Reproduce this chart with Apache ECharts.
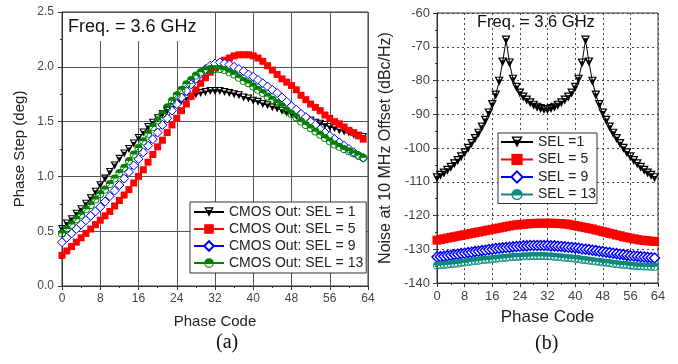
<!DOCTYPE html>
<html>
<head>
<meta charset="utf-8">
<script src="https://cdn.jsdelivr.net/npm/echarts@6/dist/echarts.min.js"></script>
<style>
html,body{margin:0;padding:0;background:#fff;}
#c{width:678px;height:364px;}
</style>
</head>
<body>
<div id="c"></div>
<script>
// ---------- data ----------
const phaseCode = [0,1,2,3,4,5,6,7,8,9,10,11,12,13,14,15,16,17,18,19,20,21,22,23,24,25,26,27,28,29,30,31,32,33,34,35,36,37,38,39,40,41,42,43,44,45,46,47,48,49,50,51,52,53,54,55,56,57,58,59,60,61,62,63];

// (a) Phase step (deg)
const stepSel1 = [0.52,0.57,0.61,0.66,0.70,0.75,0.80,0.86,0.92,0.98,1.04,1.10,1.16,1.21,1.25,1.30,1.35,1.40,1.45,1.49,1.53,1.57,1.60,1.63,1.66,1.69,1.71,1.73,1.75,1.76,1.77,1.78,1.78,1.78,1.77,1.76,1.75,1.74,1.72,1.71,1.69,1.68,1.66,1.65,1.63,1.62,1.60,1.58,1.57,1.55,1.54,1.52,1.51,1.49,1.48,1.47,1.45,1.44,1.42,1.41,1.40,1.38,1.37,1.36];
const stepSel5 = [0.28,0.32,0.36,0.40,0.44,0.48,0.52,0.56,0.60,0.64,0.68,0.73,0.78,0.83,0.88,0.94,1.00,1.06,1.13,1.20,1.27,1.33,1.40,1.47,1.53,1.60,1.66,1.73,1.79,1.85,1.90,1.95,1.99,2.03,2.06,2.08,2.10,2.11,2.11,2.11,2.10,2.08,2.05,2.01,1.97,1.93,1.89,1.86,1.83,1.79,1.74,1.70,1.66,1.63,1.60,1.56,1.53,1.50,1.48,1.45,1.42,1.40,1.37,1.34];
const stepSel9 = [0.40,0.44,0.48,0.52,0.56,0.60,0.64,0.68,0.72,0.77,0.82,0.87,0.92,0.98,1.04,1.10,1.16,1.22,1.28,1.34,1.40,1.47,1.53,1.60,1.66,1.72,1.78,1.84,1.89,1.94,1.98,2.01,2.03,2.04,2.03,2.02,2.00,1.98,1.96,1.93,1.91,1.88,1.85,1.82,1.79,1.76,1.72,1.68,1.64,1.61,1.57,1.54,1.50,1.47,1.43,1.40,1.37,1.34,1.31,1.28,1.25,1.22,1.19,1.17];
const stepSel13 = [0.48,0.52,0.56,0.61,0.65,0.70,0.74,0.79,0.84,0.88,0.93,0.98,1.03,1.08,1.14,1.20,1.26,1.32,1.39,1.45,1.51,1.57,1.63,1.69,1.74,1.79,1.84,1.88,1.92,1.95,1.97,1.98,1.98,1.98,1.97,1.95,1.93,1.90,1.87,1.85,1.82,1.79,1.76,1.73,1.70,1.67,1.64,1.60,1.57,1.54,1.50,1.47,1.44,1.41,1.38,1.35,1.32,1.29,1.27,1.25,1.23,1.21,1.19,1.17];

// (b) Noise at 10 MHz offset (dBc/Hz)
const noiseSel1 = [-108.8,-108.1,-107.4,-106.6,-105.7,-104.7,-103.7,-102.6,-101.4,-100.1,-98.7,-97.2,-95.6,-93.8,-91.8,-89.6,-87.1,-84.3,-80.2,-74.5,-68.0,-74.8,-79.6,-82.0,-83.7,-84.9,-85.8,-86.6,-87.3,-87.9,-88.3,-88.6,-88.6,-88.3,-87.9,-87.3,-86.6,-85.8,-84.9,-83.7,-82.0,-79.6,-74.8,-68.0,-74.5,-80.2,-84.3,-87.1,-89.6,-91.8,-93.8,-95.6,-97.2,-98.7,-100.1,-101.4,-102.6,-103.7,-104.7,-105.7,-106.6,-107.4,-108.1,-108.8];
const noiseSel5 = [-127.3,-127.1,-126.9,-126.7,-126.5,-126.3,-126.1,-125.9,-125.7,-125.5,-125.3,-125.1,-124.9,-124.7,-124.5,-124.3,-124.1,-123.9,-123.7,-123.5,-123.3,-123.1,-122.9,-122.8,-122.7,-122.6,-122.5,-122.4,-122.4,-122.3,-122.3,-122.3,-122.3,-122.3,-122.3,-122.4,-122.4,-122.5,-122.6,-122.8,-123.0,-123.2,-123.4,-123.6,-123.8,-124.0,-124.3,-124.5,-124.8,-125.0,-125.3,-125.5,-125.8,-126.0,-126.3,-126.5,-126.7,-126.9,-127.1,-127.3,-127.4,-127.5,-127.6,-127.7];
const noiseSel9 = [-132.3,-132.2,-132.1,-131.9,-131.8,-131.6,-131.5,-131.3,-131.2,-131.0,-130.9,-130.7,-130.6,-130.4,-130.3,-130.1,-130.0,-129.8,-129.7,-129.6,-129.5,-129.4,-129.3,-129.2,-129.1,-129.0,-129.0,-128.9,-128.9,-128.9,-128.9,-128.9,-128.9,-129.0,-129.0,-129.1,-129.2,-129.3,-129.4,-129.5,-129.6,-129.7,-129.9,-130.0,-130.1,-130.3,-130.4,-130.6,-130.7,-130.9,-131.0,-131.2,-131.3,-131.5,-131.6,-131.8,-131.9,-132.0,-132.1,-132.2,-132.3,-132.4,-132.5,-132.6];
const noiseSel13 = [-134.8,-134.7,-134.6,-134.5,-134.4,-134.3,-134.2,-134.0,-133.9,-133.8,-133.6,-133.5,-133.4,-133.2,-133.1,-133.0,-132.9,-132.8,-132.7,-132.6,-132.5,-132.4,-132.3,-132.2,-132.2,-132.1,-132.1,-132.0,-132.0,-132.0,-132.0,-132.0,-132.1,-132.1,-132.2,-132.3,-132.4,-132.5,-132.6,-132.7,-132.8,-132.9,-133.1,-133.2,-133.3,-133.5,-133.6,-133.7,-133.9,-134.0,-134.1,-134.3,-134.4,-134.5,-134.6,-134.7,-134.8,-134.9,-135.0,-135.0,-135.1,-135.1,-135.2,-135.2];

const namesA = ['CMOS Out: SEL = 1','CMOS Out: SEL = 5','CMOS Out: SEL = 9','CMOS Out: SEL = 13'];
const namesB = ['SEL =1','SEL = 5','SEL = 9','SEL = 13'];

// ---------- styles ----------
const halfTri = 'path://M0 0L20 0L10 20Z M4.5 2.6L10 13.6L15.5 2.6Z M3 6L17 6L10 20Z';
const halfCircle = 'path://M10 0A10 10 0 1 1 10 20A10 10 0 1 1 10 0Z M10 2.2A7.8 7.8 0 1 0 10 17.8A7.8 7.8 0 1 0 10 2.2Z M2 10A8 8 0 0 1 18 10Z';
const FONT = 'Liberation Sans, Arial, sans-serif';
const SERIF = 'Liberation Serif, Times New Roman, serif';

function pairs(ys){ return phaseCode.map((x,i)=>[x, ys[i]]); }

function mk(name, data, gi, color, symbol, size, fill, bw){
  return {
    name: name, type: 'line', xAxisIndex: gi, yAxisIndex: gi,
    data: pairs(data), symbol: symbol, symbolSize: size,
    showSymbol: true, showAllSymbol: true,
    lineStyle: {color: color, width: 1},
    itemStyle: {color: fill, borderColor: color, borderWidth: bw},
    emphasis: {disabled: true}, animation: false
  };
}

const axisCommon = {
  axisLine: {show: true, lineStyle: {color: '#333', width: 1}},
  axisTick: {show: true, length: 4, lineStyle: {color: '#333'}},
  minorTick: {show: true, splitNumber: 2, length: 2, lineStyle: {color: '#333'}}
};

const chart = echarts.init(document.getElementById('c'), null, {renderer: 'canvas'});
chart.setOption({
  animation: false,
  backgroundColor: '#fff',
  textStyle: {fontFamily: FONT},
  grid: [
    {left: 62, top: 12, width: 306, height: 274, show: true, borderColor: '#333', borderWidth: 1, containLabel: false},
    {left: 437, top: 13, width: 221, height: 270, show: true, borderColor: '#333', borderWidth: 1, containLabel: false}
  ],
  xAxis: [
    Object.assign({}, axisCommon, {
      gridIndex: 0, type: 'value', min: 0, max: 64, interval: 8,
      name: 'Phase Code', nameLocation: 'middle', nameGap: 28,
      nameTextStyle: {fontSize: 15, color: '#222', fontFamily: FONT},
      axisLabel: {fontSize: 12, color: '#444', margin: 7, fontFamily: FONT},
      splitLine: {show: true, lineStyle: {color: '#555', width: 1}}
    }),
    Object.assign({}, axisCommon, {
      gridIndex: 1, type: 'value', min: 0, max: 64, interval: 8,
      name: 'Phase Code', nameLocation: 'middle', nameGap: 26,
      nameTextStyle: {fontSize: 17, color: '#222', fontFamily: FONT},
      axisLabel: {fontSize: 13, color: '#444', margin: 7, fontFamily: FONT},
      splitLine: {show: true, lineStyle: {color: '#444', width: 1, type: [2, 3]}}
    })
  ],
  yAxis: [
    Object.assign({}, axisCommon, {
      gridIndex: 0, type: 'value', min: 0, max: 2.5, interval: 0.5,
      name: 'Phase Step (deg)', nameLocation: 'middle', nameGap: 35,
      nameTextStyle: {fontSize: 15, color: '#222', fontFamily: FONT},
      axisLabel: {fontSize: 12, color: '#444', margin: 8, fontFamily: FONT, formatter: v => v.toFixed(1)},
      splitLine: {show: true, lineStyle: {color: '#555', width: 1}}
    }),
    Object.assign({}, axisCommon, {
      gridIndex: 1, type: 'value', min: -140, max: -60, interval: 10,
      name: 'Noise at 10 MHz Offset (dBc/Hz)', nameLocation: 'middle', nameGap: 43,
      nameTextStyle: {fontSize: 16, color: '#222', fontFamily: FONT},
      axisLabel: {fontSize: 13, color: '#444', margin: 7, fontFamily: FONT},
      splitLine: {show: true, lineStyle: {color: '#444', width: 1, type: [2, 3]}}
    })
  ],
  title: [
    {text: 'Freq. = 3.6 GHz', left: 63, top: 13, backgroundColor: '#fff', padding: [5, 5, 5, 5],
     textStyle: {fontSize: 18, fontWeight: 'normal', color: '#111', fontFamily: FONT}},
    {text: 'Freq. = 3.6 GHz', left: 477, top: 14, padding: 0,
     textStyle: {fontSize: 16.5, fontWeight: 'normal', color: '#111', fontFamily: FONT}}
  ],
  legend: [
    {data: namesA, orient: 'vertical', left: 190, top: 202, itemWidth: 30, itemHeight: 12, itemGap: 3,
     padding: [3, 3, 3, 3], borderColor: '#333', borderWidth: 1, backgroundColor: '#fff',
     textStyle: {fontSize: 14, color: '#222', fontFamily: FONT}, selectedMode: false},
    {data: namesB, orient: 'vertical', left: 498, top: 133, itemWidth: 32, itemHeight: 14, itemGap: 3.5,
     padding: [2, 1, 2, 2], borderColor: '#333', borderWidth: 1, backgroundColor: '#fff',
     textStyle: {fontSize: 14, color: '#222', fontFamily: FONT}, selectedMode: false}
  ],
  graphic: [
    {type: 'text', left: 216, top: 333, style: {text: '(a)', fontSize: 20, fontFamily: SERIF, fill: '#111'}},
    {type: 'text', left: 535, top: 334, style: {text: '(b)', fontSize: 20, fontFamily: SERIF, fill: '#111'}}
  ],
  series: [
    mk(namesA[0], stepSel1, 0, '#000', halfTri, 8, '#000', 0),
    mk(namesA[1], stepSel5, 0, '#ff0000', 'rect', 7, '#ff0000', 0),
    mk(namesA[2], stepSel9, 0, '#0000ff', 'diamond', 9, '#fff', 1),
    mk(namesA[3], stepSel13, 0, '#008000', halfCircle, 8, '#008000', 0),
    mk(namesB[0], noiseSel1, 1, '#000', halfTri, 9, '#000', 0),
    mk(namesB[1], noiseSel5, 1, '#ff0000', 'rect', 9, '#ff0000', 0),
    mk(namesB[2], noiseSel9, 1, '#0000ff', 'diamond', 10, '#fff', 1.5),
    mk(namesB[3], noiseSel13, 1, '#0a8a7a', halfCircle, 8, '#0a8a7a', 0)
  ]
});
</script>
</body>
</html>
